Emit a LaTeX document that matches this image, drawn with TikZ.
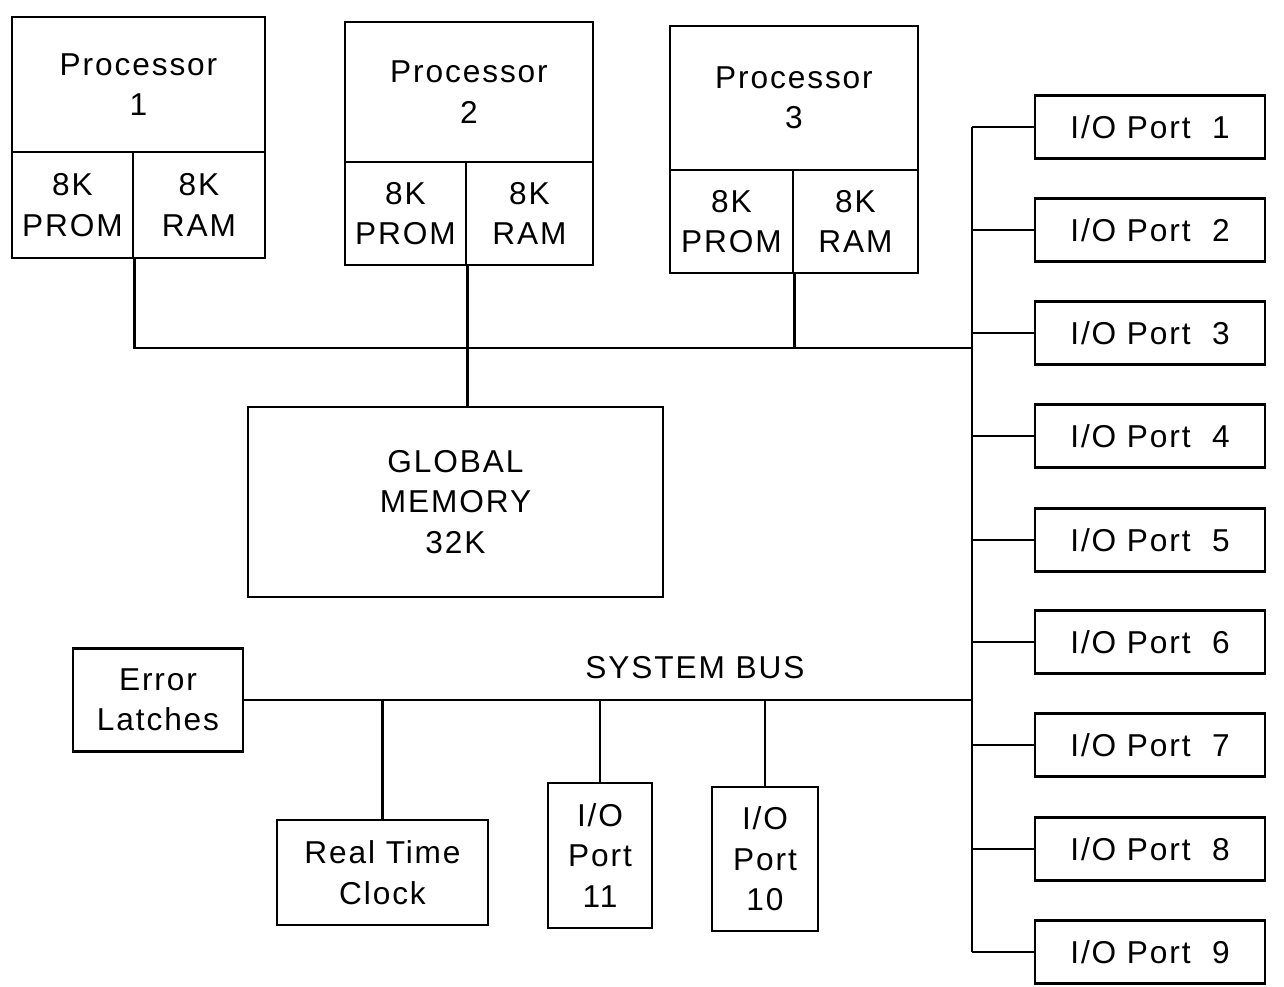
\documentclass[tikz,border=0pt]{standalone}
\usepackage{fontspec}
\setmainfont[LetterSpace=6]{Liberation Sans}
\usetikzlibrary{positioning, calc}

\begin{document}
\begin{tikzpicture}[
    box/.style={draw, line width=0.8pt, rectangle, inner sep=0pt, align=center,
        font=\fontsize{9}{11.5}\selectfont},
    bus/.style={line width=0.8pt},
    port/.style={box, minimum width=2.30cm, minimum height=0.63cm}
]
    \useasboundingbox (0,0) rectangle (12.84,-9.87);
    \node[box, minimum width=2.53cm, minimum height=1.35cm] (proc1) at (1.385,-0.845) {Processor\\1};
    \node[box, minimum width=1.21cm, minimum height=1.06cm] (prom1) at (0.725,-2.05) {8K\\PROM};
    \node[box, minimum width=1.32cm, minimum height=1.06cm] (ram1) at (1.99,-2.05) {8K\\RAM};
    \node[box, minimum width=2.48cm, minimum height=1.40cm] (proc2) at (4.69,-0.92) {Processor\\2};
    \node[box, minimum width=1.21cm, minimum height=1.03cm] (prom2) at (4.055,-2.135) {8K\\PROM};
    \node[box, minimum width=1.27cm, minimum height=1.03cm] (ram2) at (5.295,-2.135) {8K\\RAM};
    \node[box, minimum width=2.48cm, minimum height=1.44cm] (proc3) at (7.94,-0.98) {Processor\\3};
    \node[box, minimum width=1.23cm, minimum height=1.03cm] (prom3) at (7.315,-2.215) {8K\\PROM};
    \node[box, minimum width=1.25cm, minimum height=1.03cm] (ram3) at (8.555,-2.215) {8K\\RAM};
    \node[box, minimum width=4.15cm, minimum height=1.90cm] (gmem) at (4.555,-5.02) {GLOBAL\\MEMORY\\32K};
    \node[box, minimum width=1.70cm, minimum height=1.03cm] (err) at (1.58,-7.00) {Error\\Latches};
    \node[box, minimum width=2.11cm, minimum height=1.05cm] (rtc) at (3.825,-8.725) {Real Time\\Clock};
    \node[box, minimum width=1.04cm, minimum height=1.45cm] (port11) at (6.00,-8.555) {I/O\\Port\\11};
    \node[box, minimum width=1.06cm, minimum height=1.44cm] (port10) at (7.65,-8.59) {I/O\\Port\\10};
    \node[port] (port1) at (11.50,-1.27) {I/O Port~~1};
    \node[port] (port2) at (11.50,-2.30) {I/O Port~~2};
    \node[port] (port3) at (11.50,-3.33) {I/O Port~~3};
    \node[port] (port4) at (11.50,-4.36) {I/O Port~~4};
    \node[port] (port5) at (11.50,-5.40) {I/O Port~~5};
    \node[port] (port6) at (11.50,-6.42) {I/O Port~~6};
    \node[port] (port7) at (11.50,-7.45) {I/O Port~~7};
    \node[port] (port8) at (11.50,-8.49) {I/O Port~~8};
    \node[port] (port9) at (11.50,-9.52) {I/O Port~~9};
    \node[font=\fontsize{9}{11.5}\selectfont] (sysbus) at (6.95,-6.68) {SYSTEM BUS};
    \coordinate (vtop) at (9.72,-1.27);
    \coordinate (vbot) at (9.72,-9.52);
    \coordinate (pjoin) at (9.72,-3.48);
    \coordinate (sjoin) at (9.72,-7.00);
    \draw[bus] (vtop) -- (vbot);
    \draw[bus] (prom1.south east) |- (pjoin);
    \draw[bus] (prom2.south east) -- (prom2.south east |- gmem.north);
    \draw[bus] (prom3.south east) -- (prom3.south east |- pjoin);
    \draw[bus] (err.east) -- (sjoin);
    \draw[bus] (rtc.north) -- (rtc.north |- sjoin);
    \draw[bus] (port11.north) -- (port11.north |- sjoin);
    \draw[bus] (port10.north) -- (port10.north |- sjoin);
    \draw[bus] (port1.west) -- (port1.west -| vtop);
    \draw[bus] (port2.west) -- (port2.west -| vtop);
    \draw[bus] (port3.west) -- (port3.west -| vtop);
    \draw[bus] (port4.west) -- (port4.west -| vtop);
    \draw[bus] (port5.west) -- (port5.west -| vtop);
    \draw[bus] (port6.west) -- (port6.west -| vtop);
    \draw[bus] (port7.west) -- (port7.west -| vtop);
    \draw[bus] (port8.west) -- (port8.west -| vtop);
    \draw[bus] (port9.west) -- (port9.west -| vtop);
\end{tikzpicture}
\end{document}
